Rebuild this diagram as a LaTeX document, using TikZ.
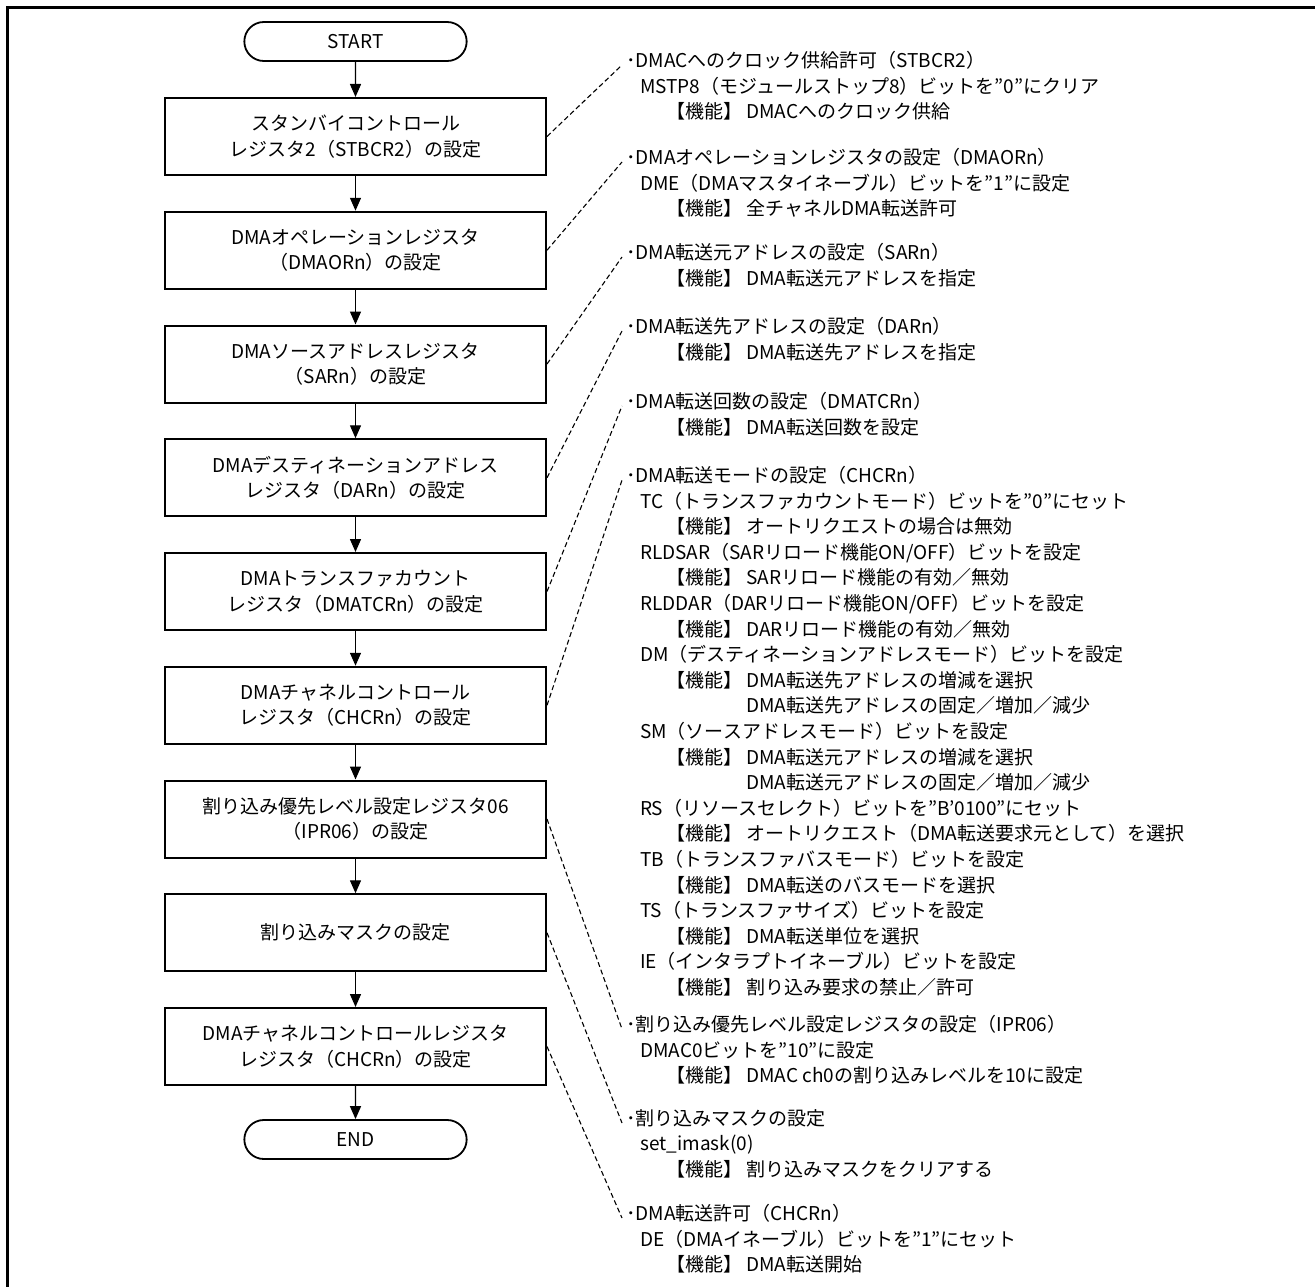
\documentclass[tikz,border=0pt]{standalone}
\usepackage{fontspec}
\setmainfont{Noto Sans CJK JP}
\usetikzlibrary{arrows.meta,shapes.misc}

\newcommand{\subline}{\hspace*{14pt}}
\newcommand{\kinou}{\hspace*{40pt}【機能】 }
\newcommand{\kinoucont}{\hspace*{40pt}\hphantom{【機能】 }}

\tikzset{
  box/.style={draw, line width=2pt, minimum width=381pt,
    minimum height=77pt, align=center, inner sep=2pt},
  term/.style={draw, line width=1.8pt, rounded rectangle,
    minimum width=229pt, minimum height=39pt},
  note/.style={anchor=north west, inner sep=0pt, align=left},
  flow/.style={line width=1.4pt, -{Triangle[length=13pt,width=11pt]}},
  link/.style={line width=1.1pt, dash pattern=on 5pt off 3pt}
}

\begin{document}
\begin{tikzpicture}[x=1pt, y=-1pt, font=\fontsize{19}{25.6}\selectfont]
    \pgfmathsetmacro\pitch{113.75};
    \useasboundingbox (0,0) rectangle (1315,1287);
    \draw[line width=3pt] (1315,7.5) -- (7.5,7.5) -- (7.5,1287);

    % flow
    \node[term] (start) at (355.5,41.5) {START};
    \foreach \i/\txt in {
        1/{スタンバイコントロール\\レジスタ2（STBCR2）の設定},
        2/{DMAオペレーションレジスタ\\（DMAORn）の設定},
        3/{DMAソースアドレスレジスタ\\（SARn）の設定},
        4/{DMAデスティネーションアドレス\\レジスタ（DARn）の設定},
        5/{DMAトランスファカウント\\レジスタ（DMATCRn）の設定},
        6/{DMAチャネルコントロール\\レジスタ（CHCRn）の設定},
        7/{割り込み優先レベル設定レジスタ06\\（IPR06）の設定},
        8/{割り込みマスクの設定},
        9/{DMAチャネルコントロールレジスタ\\レジスタ（CHCRn）の設定}} {
        \node[box] (b\i) at (355.5,{136.5+\pitch*(\i-1)}) {\txt};
    }
    \node[term] (stop) at (355.5,1139.5) {END};

    \foreach \a/\b in {start/b1, b1/b2, b2/b3, b3/b4, b4/b5, b5/b6,
        b6/b7, b7/b8, b8/b9, b9/stop}
    \draw[flow] (\a) -- (\b);

    % notes
    \node[note] (n1) at (626,51) {･DMACへのクロック供給許可（STBCR2）\\
        \subline MSTP8（モジュールストップ8）ビットを"0"にクリア\\
        \kinou DMACへのクロック供給};
    \node[note] (n2) at (626,148) {･DMAオペレーションレジスタの設定（DMAORn）\\
        \subline DME（DMAマスタイネーブル）ビットを"1"に設定\\
        \kinou 全チャネルDMA転送許可};
    \node[note] (n3) at (626,243) {･DMA転送元アドレスの設定（SARn）\\
        \kinou DMA転送元アドレスを指定};
    \node[note] (n4) at (626,317) {･DMA転送先アドレスの設定（DARn）\\
        \kinou DMA転送先アドレスを指定};
    \node[note] (n5) at (626,392) {･DMA転送回数の設定（DMATCRn）\\
        \kinou DMA転送回数を設定};
    \node[note] (n6) at (626,466) {･DMA転送モードの設定（CHCRn）\\
        \subline TC（トランスファカウントモード）ビットを"0"にセット\\
        \kinou オートリクエストの場合は無効\\
        \subline RLDSAR（SARリロード機能ON/OFF）ビットを設定\\
        \kinou SARリロード機能の有効／無効\\
        \subline RLDDAR（DARリロード機能ON/OFF）ビットを設定\\
        \kinou DARリロード機能の有効／無効\\
        \subline DM（デスティネーションアドレスモード）ビットを設定\\
        \kinou DMA転送先アドレスの増減を選択\\
        \kinoucont DMA転送先アドレスの固定／増加／減少\\
        \subline SM（ソースアドレスモード）ビットを設定\\
        \kinou DMA転送元アドレスの増減を選択\\
        \kinoucont DMA転送元アドレスの固定／増加／減少\\
        \subline RS（リソースセレクト）ビットを"B'0100"にセット\\
        \kinou オートリクエスト（DMA転送要求元として）を選択\\
        \subline TB（トランスファバスモード）ビットを設定\\
        \kinou DMA転送のバスモードを選択\\
        \subline TS（トランスファサイズ）ビットを設定\\
        \kinou DMA転送単位を選択\\
        \subline IE（インタラプトイネーブル）ビットを設定\\
        \kinou 割り込み要求の禁止／許可};
    \node[note] (n7) at (626,1015) {･割り込み優先レベル設定レジスタの設定（IPR06）\\
        \subline DMAC0ビットを"10"に設定\\
        \kinou DMAC ch0の割り込みレベルを10に設定};
    \node[note] (n8) at (626,1109) {･割り込みマスクの設定\\
        \subline set\_imask(0)\\
        \kinou 割り込みマスクをクリアする};
    \node[note] (n9) at (626,1204) {･DMA転送許可（CHCRn）\\
        \subline DE（DMAイネーブル）ビットを"1"にセット\\
        \kinou DMA転送開始};

    \foreach \i in {1,...,9}
    \draw[link] (b\i.east) -- ([shift={(-4,14)}]n\i.north west);
\end{tikzpicture}
\end{document}
